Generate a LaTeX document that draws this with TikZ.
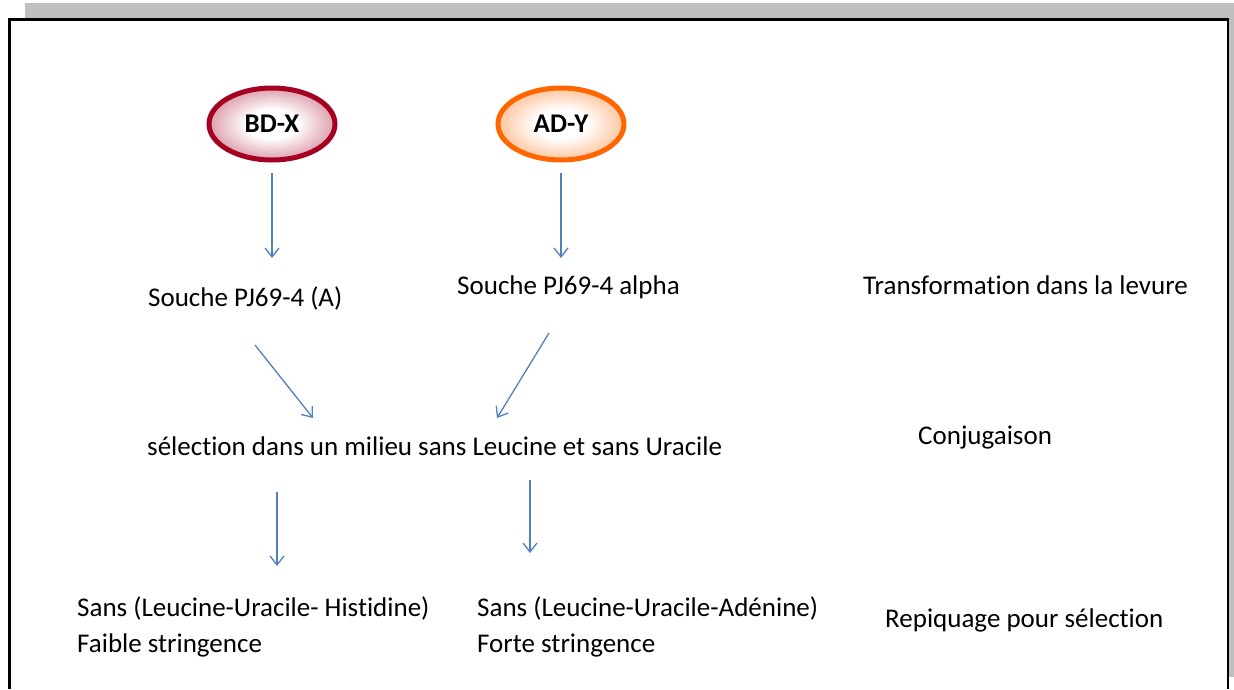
\documentclass[tikz,border=0pt]{standalone}
\usepackage{fontspec}
\setmainfont{Carlito}[Ligatures=NoCommon]
\usetikzlibrary{arrows.meta,shapes.geometric}
\definecolor{bdred}{HTML}{A50021}
\definecolor{adorange}{HTML}{FF6600}
\definecolor{arrblue}{HTML}{4F81BD}
\definecolor{shadowgray}{HTML}{BFBFBF}
\pgfdeclareradialshading{bdshade}{\pgfpoint{0bp}{0bp}}{color(0bp)=(white); color(10bp)=(white); color(50bp)=(bdred); color(100bp)=(bdred)}
\pgfdeclareradialshading{adshade}{\pgfpoint{0bp}{0bp}}{color(0bp)=(white); color(10bp)=(white); color(50bp)=(adorange); color(100bp)=(adorange)}
\begin{document}
\begin{tikzpicture}[x=1pt,y=-1pt,
  lbl/.style={font=\fontsize{27}{32}\selectfont, inner sep=0pt, anchor=base west},
  arr/.style={draw=arrblue, line width=1.3pt, -{Straight Barb[length=9pt,width=14pt]}},
  oval/.style={ellipse, minimum width=126pt, minimum height=72pt, line width=5pt, inner sep=0pt, outer sep=0pt, font=\bfseries\fontsize{27}{32}\selectfont}]
\useasboundingbox (0,0) rectangle (1234,689);
% shadow and frame
\fill[shadowgray] (25,3) rectangle (1234,677);
\fill[white] (9.5,19.5) rectangle (1228,689);
\draw[line width=2.5pt] (9.5,689) -- (9.5,19.5) -- (1228,19.5) -- (1228,689);
% ovals
\node[oval, draw=bdred, shading=bdshade] (bdx) at (272,124) {BD-X};
\node[oval, draw=adorange, shading=adshade] (ady) at (561,124) {AD-Y};
% labels
\node[lbl] (s1) at (148,306) {Souche PJ69-4 (A)};
\node[lbl] (s2) at (457,294) {Souche PJ69-4 alpha};
\node[lbl] (t1) at (863,294) {Transformation dans la levure};
\node[lbl] (sel) at (147,455) {sélection dans un milieu sans Leucine et sans Uracile};
\node[lbl] (conj) at (918,444) {Conjugaison};
\node[lbl] (m1) at (77,616) {Sans (Leucine-Uracile- Histidine)};
\node[lbl] (f1) at (77,652) {Faible stringence};
\node[lbl] (m2) at (477,616) {Sans (Leucine-Uracile-Adénine)};
\node[lbl] (f2) at (477,652) {Forte stringence};
\node[lbl] (rep) at (885,627) {Repiquage pour sélection};
% arrow end points
\coordinate (a1s) at (272,173); \coordinate (a1e) at (272,258);
\coordinate (a2s) at (561,173); \coordinate (a2e) at (561,258);
\coordinate (d1s) at (255,345); \coordinate (d1e) at (313,418);
\coordinate (d2s) at (549,333); \coordinate (d2e) at (497,418);
\coordinate (b1s) at (277,492); \coordinate (b1e) at (277,566);
\coordinate (b2s) at (530,480); \coordinate (b2e) at (530,553);
\draw[arr] (a1s) -- (a1e);
\draw[arr] (a2s) -- (a2e);
\draw[arr] (d1s) -- (d1e);
\draw[arr] (d2s) -- (d2e);
\draw[arr] (b1s) -- (b1e);
\draw[arr] (b2s) -- (b2e);
\end{tikzpicture}
\end{document}
